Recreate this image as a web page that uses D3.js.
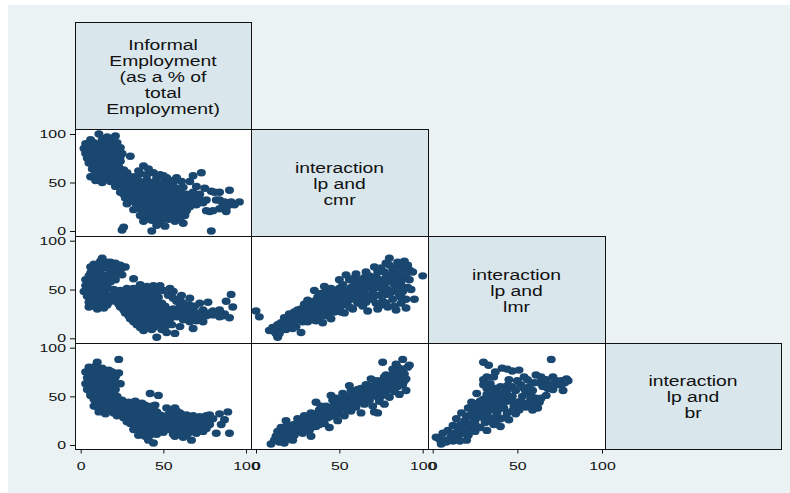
<!DOCTYPE html>
<html><head><meta charset="utf-8">
<script src="https://cdn.jsdelivr.net/npm/d3@7"></script>
<style>body{margin:0;background:#fff}svg{display:block}</style>
</head><body><svg id="c" width="790" height="493"></svg>
<script>
// ---------- data ----------
const varLabels = [
  ["Informal","Employment","(as a % of","total","Employment)"],
  ["interaction","lp and","cmr"],
  ["interaction","lp and","lmr"],
  ["interaction","lp and","br"]
];
const tickValues = [0, 50, 100];

// x = Informal employment, y = interaction lp and cmr
const ptsInfCmr = [[11,100],[16,97],[21,98],[6,94],[13,94],[18,93],[3,90],[8,91],[12,89],[17,90],[22,91],[2,85],[6,86],[10,84],[14,86],[19,85],[24,86],[3,80],[7,81],[11,79],[15,80],[20,79],[25,80],[4,75],[8,76],[12,74],[16,75],[21,74],[24,77],[30,77],[5,70],[9,70],[13,69],[17,71],[22,70],[7,64],[11,63],[15,65],[19,63],[23,66],[6,56],[12,58],[16,56],[20,58],[13,50],[18,51],[9,52],[26,63],[28,60],[33,56],[38,67],[41,64],[44,60],[48,58],[52,55],[56,50],[58,55],[61,51],[66,51],[68,57],[73,60],[22,52],[26,53],[30,51],[35,52],[40,53],[45,51],[50,50],[21,46],[25,47],[29,46],[33,45],[37,47],[42,46],[46,45],[50,46],[54,45],[58,44],[62,45],[24,40],[28,41],[32,39],[36,40],[40,41],[44,39],[48,40],[52,39],[56,40],[60,41],[64,38],[68,40],[72,38],[79,41],[84,40],[90,42],[27,34],[31,35],[35,33],[39,34],[43,35],[47,33],[51,34],[55,35],[59,33],[63,34],[67,33],[71,35],[28,28],[33,29],[37,27],[41,28],[45,29],[49,27],[53,28],[57,29],[61,27],[65,28],[70,27],[74,29],[84,32],[86,28],[91,30],[96,30],[90,27],[32,22],[36,23],[40,21],[44,22],[48,23],[52,21],[56,22],[60,23],[64,21],[76,21],[78,20],[88,20],[84,23],[36,16],[41,17],[46,16],[50,15],[55,17],[59,15],[63,16],[38,10],[43,11],[48,9],[53,12],[57,10],[62,8],[25,1],[26,4],[43,0],[79,0],[70,46],[75,44],[81,40],[72,32],[76,32],[82,32],[87,30],[93,27],[88,23],[80,21],
 [5,88],[9,88],[15,92],[20,88],[4,83],[8,83],[12,82],[17,82],[22,83],[5,77],[10,78],[14,77],[18,77],[22,77],[7,73],[11,72],[15,72],[19,72],[24,72],[9,67],[13,66],[17,67],[21,67],[9,60],[14,61],[18,60],[22,61],[10,55],[15,53],[20,55],[25,57],[24,50],[28,49],[32,48],[36,49],[40,49],[44,48],[48,48],[52,48],[27,44],[31,42],[35,43],[39,44],[43,43],[47,42],[51,42],[55,42],[59,41],[26,38],[30,37],[34,36],[38,37],[42,37],[46,36],[50,37],[54,37],[58,37],[62,36],[66,36],[70,37],[30,31],[34,31],[38,31],[42,31],[46,31],[50,31],[54,31],[58,30],[62,30],[66,30],[70,31],[34,25],[38,25],[42,25],[46,25],[50,25],[54,25],[58,26],[62,25],[66,25],[38,19],[43,20],[47,19],[52,18],[57,19],[61,19],[40,13],[45,13],[50,12],[55,13],[60,12],[46,6],[51,5],[36,59],[40,58],[46,55],[50,57],[54,52],[30,56],[35,62]];

// x = Informal employment, y = interaction lp and lmr
const ptsInfLmr = [[6,73],[9,73],[12,79],[13,82],[16,78],[18,78],[21,77],[24,75],[27,73],[6,67],[10,68],[14,65],[18,67],[22,68],[25,65],[3,60],[7,62],[11,60],[15,61],[21,60],[32,61],[3,54],[7,55],[11,55],[16,55],[2,48],[6,49],[10,48],[14,49],[4,43],[8,42],[12,43],[16,44],[5,37],[9,36],[13,38],[17,37],[5,32],[10,30],[14,31],[36,55],[40,53],[44,54],[32,51],[38,49],[20,50],[24,49],[28,51],[33,50],[37,52],[41,50],[45,51],[19,44],[23,45],[27,43],[31,44],[35,45],[39,43],[43,44],[47,42],[21,38],[25,39],[29,37],[33,38],[37,39],[41,37],[45,38],[49,36],[24,32],[28,33],[32,31],[36,32],[40,33],[44,31],[48,32],[52,30],[27,26],[31,27],[35,25],[39,26],[43,27],[47,25],[51,26],[55,27],[30,20],[34,21],[38,19],[42,20],[46,21],[50,19],[54,20],[34,14],[38,15],[42,13],[46,14],[51,12],[38,8],[43,9],[52,6],[57,5],[46,1],[53,44],[56,48],[61,44],[66,41],[58,38],[62,36],[66,34],[72,36],[77,37],[88,38],[91,45],[92,32],[56,30],[60,28],[64,26],[68,24],[72,22],[76,23],[80,24],[84,29],[87,25],[90,21],[84,22],[58,22],[62,19],[66,17],[70,18],[74,17],[68,10],[60,12],[55,14],[74,29],[80,28],
 [8,76],[11,75],[15,75],[19,74],[23,72],[8,70],[12,71],[16,72],[20,71],[24,70],[5,64],[9,65],[13,63],[17,63],[20,64],[5,58],[9,58],[13,58],[18,58],[4,51],[8,52],[12,51],[16,51],[6,46],[10,45],[14,46],[6,40],[10,39],[14,40],[18,41],[8,33],[12,34],[16,34],[22,47],[26,46],[30,47],[34,47],[38,46],[42,47],[46,46],[22,41],[26,41],[30,40],[34,41],[38,41],[42,40],[46,40],[23,35],[27,35],[31,34],[35,35],[39,35],[43,34],[47,34],[51,33],[26,29],[30,30],[34,28],[38,29],[42,29],[46,28],[50,29],[29,23],[33,24],[37,22],[41,23],[45,24],[49,22],[53,23],[32,17],[36,18],[40,17],[44,17],[48,17],[52,16],[36,11],[40,11],[44,11],[49,9],[58,25],[62,23],[66,21],[70,21],[78,26],[82,26],[86,23],[64,29],[68,28],[72,26],[60,32],[64,33],[69,33],[56,41],[60,40],[54,51],[50,49],[48,54]];

// x = interaction lp and cmr, y = interaction lp and lmr
const ptsCmrLmr = [[0,28],[2,22],[8,8],[10,11],[13,1],[12,5],[14,9],[16,12],[15,16],[18,15],[20,18],[17,21],[21,23],[13,14],[27,6],[22,15],[24,19],[26,23],[23,27],[25,29],[28,17],[29,22],[27,30],[30,26],[29,35],[31,39],[32,20],[34,24],[33,29],[36,33],[35,38],[38,27],[37,42],[39,46],[35,49],[40,36],[38,22],[42,23],[41,30],[44,34],[43,40],[42,47],[45,51],[41,53],[47,27],[48,38],[46,44],[49,49],[50,31],[50,60],[52,55],[54,65],[52,43],[54,36],[53,26],[56,50],[57,40],[58,30],[59,58],[60,66],[58,45],[62,52],[63,40],[64,33],[62,46],[65,62],[66,68],[67,28],[68,55],[69,45],[66,37],[70,50],[71,73],[72,63],[73,30],[74,44],[75,58],[76,38],[77,68],[78,77],[80,82],[76,50],[79,32],[72,36],[82,70],[84,29],[83,55],[85,78],[86,45],[88,62],[89,79],[90,31],[91,52],[92,70],[94,68],[95,40],[100,64],[87,36],[84,64],[18,9],[22,10],[20,25],[24,12],[31,17],[36,18],[44,26],[47,33],[51,37],[55,44],[60,54],[64,58],[56,60],[61,36],[70,40],[74,52],[78,45],[80,58],[82,40],[86,55],[88,48],[90,40],[81,65],[45,20],[40,16],
 [11,7],[14,5],[17,11],[19,12],[23,17],[25,22],[27,20],[28,26],[30,31],[32,27],[31,33],[33,34],[34,19],[35,31],[37,36],[38,31],[39,39],[40,44],[41,26],[43,32],[44,44],[45,29],[46,38],[47,47],[48,31],[49,42],[50,51],[51,27],[52,34],[53,49],[55,38],[56,32],[57,52],[58,61],[59,42],[60,47],[61,60],[62,38],[63,55],[64,45],[65,50],[66,43],[67,58],[68,64],[69,52],[70,58],[71,45],[72,56],[73,68],[74,60],[75,72],[76,46],[77,55],[78,62],[79,50],[80,75],[81,47],[82,60],[83,72],[84,50],[85,66],[86,74],[87,58],[88,70],[89,52],[90,64],[91,75],[92,60],[93,50],[87,42],[83,33],[78,36],[75,34]];

// x = Informal employment, y = interaction lp and br
const ptsInfBr = [[23,88],[10,85],[5,80],[9,81],[13,79],[17,77],[3,75],[7,76],[11,74],[15,73],[19,72],[23,74],[4,69],[8,70],[12,68],[16,67],[20,66],[24,63],[3,63],[7,64],[11,62],[15,61],[19,60],[4,57],[8,58],[12,56],[16,55],[20,54],[6,51],[10,50],[14,49],[18,48],[22,50],[9,43],[13,42],[17,44],[21,45],[25,46],[29,44],[33,45],[37,43],[42,53],[47,51],[45,41],[12,37],[16,38],[20,39],[24,40],[28,39],[32,38],[36,40],[40,39],[44,37],[20,33],[24,34],[28,33],[32,32],[36,34],[40,33],[44,32],[48,31],[26,28],[30,27],[34,26],[38,28],[42,27],[46,26],[50,27],[30,22],[34,21],[38,22],[42,20],[46,21],[50,22],[32,16],[36,15],[40,16],[44,14],[48,15],[35,10],[39,9],[43,11],[41,5],[44,2],[8,40],[11,34],[15,32],[52,38],[55,35],[57,38],[60,33],[64,31],[68,30],[72,29],[76,30],[78,31],[84,32],[89,34],[87,26],[85,21],[82,12],[90,12],[52,30],[56,28],[60,27],[64,26],[68,25],[72,24],[76,25],[80,27],[54,22],[58,21],[62,20],[66,22],[70,20],[74,19],[78,21],[54,16],[58,14],[62,15],[66,13],[70,16],[74,14],[57,9],[62,8],[67,5],[60,11],
 [7,79],[11,78],[15,76],[19,75],[5,72],[9,73],[13,71],[17,70],[21,70],[6,66],[10,66],[14,65],[18,63],[22,63],[5,60],[9,61],[13,59],[17,58],[21,57],[6,54],[10,54],[14,53],[18,52],[8,47],[12,46],[16,47],[20,48],[24,43],[10,39],[14,41],[18,42],[22,41],[27,42],[31,41],[35,42],[39,41],[43,40],[14,35],[18,36],[22,37],[26,37],[30,36],[34,36],[38,37],[42,35],[46,34],[22,30],[26,31],[30,30],[34,30],[38,31],[42,30],[46,29],[28,24],[32,25],[36,24],[40,24],[44,24],[48,24],[52,25],[34,18],[38,18],[42,17],[46,18],[50,18],[38,13],[42,12],[46,11],[50,13],[53,19],[56,18],[60,17],[64,18],[68,17],[72,17],[76,17],[56,25],[60,24],[64,23],[68,22],[72,22],[58,31],[62,30],[66,28],[70,27],[74,27],[54,33],[58,35],[56,11],[64,10],[70,12]];

// x = interaction lp and cmr, y = interaction lp and br
const ptsCmrBr = [[9,1],[12,9],[14,3],[17,2],[13,14],[16,10],[18,6],[20,12],[15,18],[19,20],[21,16],[18,25],[22,5],[24,14],[23,21],[26,18],[25,27],[28,12],[27,23],[30,20],[29,30],[32,15],[31,26],[33,9],[34,22],[33,33],[35,28],[36,19],[37,25],[38,36],[36,44],[40,31],[41,22],[42,40],[43,28],[44,18],[45,35],[46,46],[47,30],[48,40],[49,25],[45,51],[50,36],[51,45],[52,53],[53,30],[54,41],[55,48],[56,61],[57,35],[58,44],[59,52],[60,39],[61,57],[62,47],[63,33],[64,53],[65,42],[66,62],[67,48],[68,55],[69,68],[70,40],[71,34],[72,50],[73,60],[74,45],[75,66],[76,54],[77,42],[78,72],[79,58],[80,49],[73,33],[81,64],[82,78],[83,55],[84,70],[85,60],[86,52],[87,75],[88,88],[76,85],[89,66],[90,56],[91,80],[92,82],[88,62],[85,80],[27,16],[31,21],[39,29],[44,38],[50,42],[56,49],[62,55],[68,61],[74,64],[80,71],[86,68],[39,40],[48,48],[57,56],
 [11,5],[15,6],[19,9],[17,15],[21,20],[23,10],[25,17],[26,22],[28,20],[29,15],[30,25],[32,23],[33,18],[34,26],[35,32],[36,24],[37,30],[38,21],[39,33],[40,27],[41,35],[42,30],[43,38],[44,29],[46,33],[47,41],[48,35],[49,44],[50,32],[51,38],[52,46],[53,40],[54,50],[55,36],[56,44],[57,51],[58,40],[59,47],[60,55],[61,44],[62,51],[63,58],[64,46],[65,55],[66,50],[67,58],[68,46],[69,52],[70,60],[71,56],[72,66],[73,52],[74,58],[75,50],[76,62],[77,70],[78,55],[79,65],[80,60],[81,72],[82,58],[83,66],[84,62],[85,74],[86,64],[87,70],[88,78],[89,73],[90,68],[84,83]];

// x = interaction lp and lmr, y = interaction lp and br
const ptsLmrBr = [[2,8],[5,1],[7,5],[11,9],[15,15],[22,19],[20,29],[24,34],[18,22],[28,39],[26,53],[30,67],[30,85],[33,82],[32,58],[36,50],[40,60],[36,70],[41,79],[47,76],[51,77],[45,67],[49,56],[53,50],[55,39],[49,32],[45,26],[36,21],[32,15],[40,19],[59,36],[61,48],[59,56],[56,67],[61,72],[67,67],[71,70],[70,88],[74,62],[79,68],[77,56],[64,48],[62,38],[55,55],[65,60],[67,51],[6,12],[9,15],[12,20],[8,3],[12,4],[15,8],[18,12],[21,10],[25,14],[28,18],[31,23],[14,27],[17,33],[21,38],[23,44],[25,25],[28,29],[32,33],[35,40],[38,45],[30,47],[27,43],[34,28],[38,32],[42,38],[44,45],[47,50],[42,53],[37,58],[34,63],[44,61],[50,44],[52,62],[57,44],[63,64],[68,58],[72,64],[76,62],[40,27],[44,33],[53,40],[16,4],[20,5],
 [4,6],[10,6],[13,12],[17,17],[20,14],[23,22],[26,19],[19,25],[22,31],[26,34],[29,33],[16,20],[25,38],[28,45],[31,40],[33,37],[36,36],[39,37],[41,42],[33,45],[36,42],[40,48],[43,50],[46,46],[48,40],[51,36],[47,35],[43,28],[38,26],[35,24],[30,28],[32,52],[35,55],[39,53],[44,56],[47,60],[50,66],[54,58],[57,60],[60,64],[64,70],[66,62],[69,62],[71,57],[73,66],[76,66],[78,64],[80,66],[58,48],[52,45],[28,35],[24,28],[30,62],[32,70],[37,75],[44,78],[54,70],[58,52],[63,44],[57,41],[60,42]];

// ---------- layout ----------
const W = 790, H = 493;
const colX = [75, 251, 428, 605, 781];
const rowY = [22, 129, 236, 343, 449];
const TX = 1.38; // horizontal text stretch seen in the reference
const markerColor = "#1a476f";

const svg = d3.select("#c");
svg.append("rect").attr("x",8).attr("y",5).attr("width",W-8).attr("height",H-5).attr("fill","#eaf2f4");

const xRanges = [[80.7,246],[256,422.7],[432.7,602]];
const yRanges = [null,[231,134],[338.3,240.7],[445,347.7]];
const xScales = xRanges.map(r => d3.scaleLinear().domain([0,100]).range(r));
const yScales = yRanges.map(r => r ? d3.scaleLinear().domain([0,100]).range(r) : null);

const panels = [
  {r:1,c:0,data:ptsInfCmr},
  {r:2,c:0,data:ptsInfLmr},
  {r:2,c:1,data:ptsCmrLmr},
  {r:3,c:0,data:ptsInfBr},
  {r:3,c:1,data:ptsCmrBr},
  {r:3,c:2,data:ptsLmrBr}
];

const defs = svg.append("defs");
panels.forEach((p,i) => {
  const x0 = colX[p.c], x1 = colX[p.c+1], y0 = rowY[p.r], y1 = rowY[p.r+1];
  svg.append("rect").attr("x",x0).attr("y",y0).attr("width",x1-x0).attr("height",y1-y0).attr("fill","#fff");
  defs.append("clipPath").attr("id","clip"+i).append("rect")
    .attr("x",x0).attr("y",y0).attr("width",x1-x0).attr("height",y1-y0);
  const xs = xScales[p.c], ys = yScales[p.r];
  svg.append("g").attr("clip-path","url(#clip"+i+")")
    .selectAll("ellipse").data(p.data).join("ellipse")
    .attr("cx", d => xs(d[0])).attr("cy", d => ys(d[1]))
    .attr("rx", 4.5).attr("ry", 3.7)
    .attr("fill", markerColor);
});

// diagonal label cells
varLabels.forEach((lines,i) => {
  const x0 = colX[i], x1 = colX[i+1], y0 = rowY[i], y1 = rowY[i+1];
  svg.append("rect").attr("x",x0).attr("y",y0).attr("width",x1-x0).attr("height",y1-y0).attr("fill","#d9e6ec");
  const cx = (x0+x1)/2, cy = (y0+y1)/2;
  const n = lines.length;
  lines.forEach((t,k) => {
    const y = cy + 6 + (k-(n-1)/2)*16;
    svg.append("text").attr("transform",`translate(${cx},${y}) scale(${TX},1)`)
      .attr("text-anchor","middle").attr("font-family","Liberation Sans, Arial, sans-serif")
      .attr("font-size",14).attr("fill","#111").text(t);
  });
});

// borders
const allCells = panels.map(p=>[p.r,p.c]).concat([[0,0],[1,1],[2,2],[3,3]]);
allCells.forEach(([r,c]) => {
  svg.append("rect").attr("x",colX[c]+0.5).attr("y",rowY[r]+0.5)
    .attr("width",colX[c+1]-colX[c]).attr("height",rowY[r+1]-rowY[r])
    .attr("fill","none").attr("stroke","#111").attr("stroke-width",1);
});

// axes
function styleAxis(g){
  g.select(".domain").remove();
  g.selectAll(".tick line").attr("stroke","#111");
  g.selectAll("text").attr("font-family","Liberation Sans, Arial, sans-serif").attr("font-size",11.5).attr("fill","#111");
}
[1,2,3].forEach(r => {
  const g = svg.append("g").attr("transform",`translate(${colX[0]},0)`)
    .call(d3.axisLeft(yScales[r]).tickValues(tickValues).tickSize(5).tickPadding(4));
  styleAxis(g);
  g.selectAll("text").attr("x", -9/TX).attr("transform",`scale(${TX},1)`);
});
[0,1,2].forEach(c => {
  const g = svg.append("g").attr("transform",`translate(0,${rowY[4]+0.5})`)
    .call(d3.axisBottom(xScales[c]).tickValues(tickValues).tickSize(4).tickPadding(8));
  styleAxis(g);
  g.selectAll("text").attr("transform",`scale(${TX},1)`);
});
</script></body></html>
